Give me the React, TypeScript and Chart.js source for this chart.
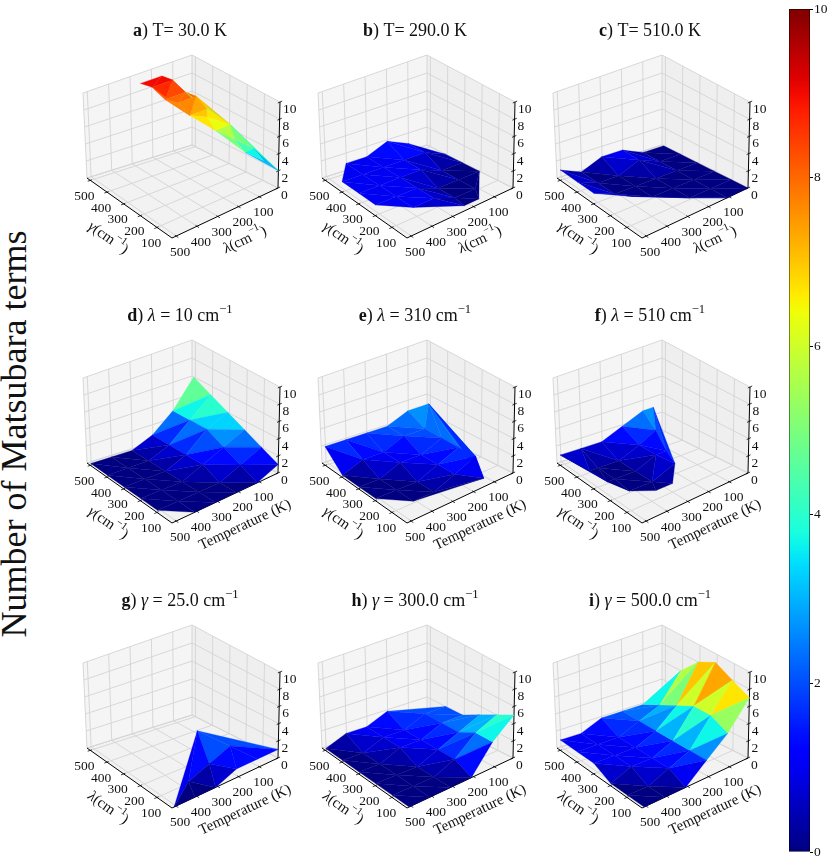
import React, { useEffect, useRef } from "react";
import { Chart, registerables } from "chart.js";

Chart.register(...registerables);

const FONT = '"Liberation Serif", "Times New Roman", serif';

// ticks shared by all 3D panels and the colour bar
const axisTicks = [100, 200, 300, 400, 500];
const zTicks = [0, 2, 4, 6, 8, 10];
const barTicks = [0, 2, 4, 6, 8, 10];
const axisMin = 10;
const axisMax = 520;
const zMax = 10;

// a) T = 30 K : gamma, lambda, terms
const gammaA = [510, 510, 460, 460, 410, 410, 360, 360, 310, 310, 260, 210, 210, 160, 110, 110, 60, 10];
const lambdaA = [160, 260, 150, 245, 130, 225, 120, 205, 110, 190, 150, 80, 150, 100, 50, 90, 40, 10];
const termsA = [9, 9, 9, 9, 8, 8, 8, 8, 7, 7, 7, 6, 6, 5, 4, 4, 3, 2];

// b) T = 290 K
const gammaB = [510, 510, 510, 510, 410, 410, 410, 410, 410, 410, 310, 310, 310, 310, 310, 310, 210, 210, 210, 210, 210, 210, 110, 110, 110, 110, 40, 40];
const lambdaB = [110, 210, 310, 410, 10, 110, 210, 310, 410, 510, 10, 110, 210, 310, 410, 510, 10, 110, 210, 310, 410, 510, 110, 210, 310, 410, 150, 220];
const termsB = [1, 2, 1, 1, 0, 1, 1, 1, 1, 1, 0, 0, 1, 1, 1, 1, 0, 0, 0, 1, 1, 1, 0, 0, 1, 1, 0, 0];

// c) T = 510 K
const gammaC = [510, 510, 510, 510, 510, 510, 410, 410, 410, 410, 410, 410, 310, 310, 310, 310, 310, 310, 210, 210, 210, 210, 210, 110, 110, 110, 10, 10];
const lambdaC = [10, 110, 210, 310, 410, 510, 10, 110, 210, 310, 410, 510, 10, 110, 210, 310, 410, 510, 10, 110, 210, 310, 410, 10, 110, 210, 10, 110];
const termsC = [0, 0, 1, 1, 0, 1, 0, 0, 1, 0, 0, 1, 0, 0, 0, 0, 0, 1, 0, 0, 0, 0, 1, 0, 0, 0, 0, 0];

// d) lambda = 10 : gamma, temperature, terms
const gammaD = [510, 510, 510, 510, 510, 510, 410, 410, 410, 410, 410, 410, 310, 310, 310, 310, 310, 310, 210, 210, 210, 210, 210, 210, 110, 110, 110, 110, 110, 110, 10, 10, 10, 10, 10];
const tempD = [10, 110, 210, 310, 410, 510, 10, 110, 210, 310, 410, 510, 10, 110, 210, 310, 410, 510, 10, 110, 210, 310, 410, 510, 10, 110, 210, 310, 410, 510, 10, 110, 210, 310, 410];
const termsD = [6, 3, 1, 0, 0, 0, 5, 3, 1, 0, 0, 0, 4, 3, 1, 0, 0, 0, 3, 2, 1, 0, 0, 0, 2, 1, 0, 0, 0, 0, 1, 0, 0, 0, 0];

// e) lambda = 310
const gammaE = [510, 510, 510, 510, 510, 510, 410, 410, 410, 410, 410, 310, 310, 310, 310, 310, 210, 210, 210, 210, 210, 110, 110, 110, 110, 60];
const tempE = [10, 110, 210, 310, 410, 510, 110, 210, 310, 410, 510, 110, 210, 310, 410, 510, 110, 210, 310, 410, 510, 110, 210, 310, 410, 110];
const termsE = [3, 3, 2, 2, 2, 2, 2, 2, 1, 1, 0, 2, 1, 1, 0, 0, 2, 1, 0, 0, 0, 2, 1, 0, 0, 0];

// f) lambda = 510
const gammaF = [510, 510, 510, 510, 510, 510, 410, 410, 410, 410, 410, 310, 310, 310, 310, 310, 210, 210, 210, 150, 150];
const tempF = [60, 110, 210, 310, 410, 510, 130, 210, 310, 410, 450, 160, 210, 310, 410, 445, 200, 310, 420, 260, 340];
const termsF = [3, 3, 2, 1, 1, 1, 2, 1, 0, 0, 0, 1, 1, 0, 0, 0, 1, 0, 0, 0, 0];

// g) gamma = 25 : lambda, temperature, terms
const lambdaG = [10, 10, 10, 10, 10, 10, 110, 110, 110, 230];
const tempG = [10, 110, 210, 310, 410, 510, 160, 260, 360, 220];
const termsG = [1, 1, 1, 0, 0, 0, 2, 1, 0, 3];

// h) gamma = 300
const lambdaH = [510, 510, 510, 510, 410, 410, 410, 410, 410, 410, 310, 310, 310, 310, 310, 310, 210, 210, 210, 210, 210, 210, 110, 110, 110, 110, 110, 110, 10, 10, 10, 10, 10, 10];
const tempH = [210, 310, 410, 510, 10, 110, 210, 310, 410, 510, 10, 110, 210, 310, 410, 510, 10, 110, 210, 310, 410, 510, 10, 110, 210, 310, 410, 510, 10, 110, 210, 310, 410, 510];
const termsH = [2, 1, 1, 0, 2, 2, 1, 1, 0, 0, 2, 2, 1, 1, 0, 0, 3, 2, 1, 0, 0, 0, 4, 3, 1, 0, 0, 0, 5, 3, 0, 0, 0, 0];

// i) gamma = 500
const lambdaI = [510, 510, 510, 510, 510, 510, 410, 410, 410, 410, 410, 410, 310, 310, 310, 310, 310, 310, 210, 210, 210, 210, 210, 210, 110, 110, 110, 110, 110, 110, 10, 10, 10, 10, 10, 10];
const tempI = [10, 110, 210, 310, 410, 510, 10, 110, 210, 310, 410, 510, 10, 110, 210, 310, 410, 510, 10, 110, 210, 310, 410, 510, 10, 110, 210, 310, 410, 510, 10, 110, 210, 310, 410, 510];
const termsI = [3, 2, 2, 2, 1, 1, 6, 3, 2, 1, 1, 1, 8, 4, 2, 1, 1, 1, 9, 5, 2, 1, 1, 0, 8, 5, 2, 1, 0, 0, 7, 4, 2, 0, 0, 0];

type Seg = { t: string; b?: boolean; i?: boolean; sup?: boolean };

const gammaLabel: Seg[] = [{ t: "γ", i: true }, { t: "(cm" }, { t: "−1", sup: true }, { t: ")" }];
const lambdaLabel: Seg[] = [{ t: "λ", i: true }, { t: "(cm" }, { t: "−1", sup: true }, { t: ")" }];
const tempLabel: Seg[] = [{ t: "Temperature (K)" }];

const mathTitle = (letter: string, sym: string, rest: string): Seg[] => [
  { t: letter, b: true },
  { t: ") " },
  { t: sym, i: true },
  { t: rest + " cm" },
  { t: "−1", sup: true },
];

interface PanelSpec {
  title: Seg[];
  left: Seg[];
  right: Seg[];
  xs: number[];
  ys: number[];
  zs: number[];
}

const panels: PanelSpec[] = [
  { title: [{ t: "a", b: true }, { t: ") T= 30.0 K" }], left: gammaLabel, right: lambdaLabel, xs: gammaA, ys: lambdaA, zs: termsA },
  { title: [{ t: "b", b: true }, { t: ") T= 290.0 K" }], left: gammaLabel, right: lambdaLabel, xs: gammaB, ys: lambdaB, zs: termsB },
  { title: [{ t: "c", b: true }, { t: ") T= 510.0 K" }], left: gammaLabel, right: lambdaLabel, xs: gammaC, ys: lambdaC, zs: termsC },
  { title: mathTitle("d", "λ", " = 10"), left: gammaLabel, right: tempLabel, xs: gammaD, ys: tempD, zs: termsD },
  { title: mathTitle("e", "λ", " = 310"), left: gammaLabel, right: tempLabel, xs: gammaE, ys: tempE, zs: termsE },
  { title: mathTitle("f", "λ", " = 510"), left: gammaLabel, right: tempLabel, xs: gammaF, ys: tempF, zs: termsF },
  { title: mathTitle("g", "γ", " = 25.0"), left: lambdaLabel, right: tempLabel, xs: lambdaG, ys: tempG, zs: termsG },
  { title: mathTitle("h", "γ", " = 300.0"), left: lambdaLabel, right: tempLabel, xs: lambdaH, ys: tempH, zs: termsH },
  { title: mathTitle("i", "γ", " = 500.0"), left: lambdaLabel, right: tempLabel, xs: lambdaI, ys: tempI, zs: termsI },
];

// panel geometry (local pixels): floor and top corners of the 3D box
const PANEL_W = 235;
const PANEL_H = 285;
const FLOOR = { R: [213, 188], B: [127, 145], L: [22, 178], F: [107, 238] };
const TOP = { R: [215, 102], B: [127, 55], L: [18, 93], F: [106, 150] };

// matplotlib jet
const JET_R = [[0, 0], [0.35, 0], [0.66, 1], [0.89, 1], [1, 0.5]];
const JET_G = [[0, 0], [0.125, 0], [0.375, 1], [0.64, 1], [0.91, 0], [1, 0]];
const JET_B = [[0, 0.5], [0.11, 1], [0.34, 1], [0.65, 0], [1, 0]];

function piece(pts: number[][], t: number) {
  for (let k = 1; k < pts.length; k++) {
    if (t <= pts[k][0]) {
      const [x0, y0] = pts[k - 1];
      const [x1, y1] = pts[k];
      return y0 + ((y1 - y0) * (t - x0)) / (x1 - x0);
    }
  }
  return pts[pts.length - 1][1];
}

function jet(t: number) {
  const c = Math.max(0, Math.min(1, t));
  const r = Math.round(255 * piece(JET_R, c));
  const g = Math.round(255 * piece(JET_G, c));
  const b = Math.round(255 * piece(JET_B, c));
  return `rgb(${r},${g},${b})`;
}

const norm = (v: number) => (v - axisMin) / (axisMax - axisMin);

function bil(q: any, u: number, v: number) {
  const wR = (1 - u) * (1 - v);
  const wB = u * (1 - v);
  const wL = u * v;
  const wF = (1 - u) * v;
  return [
    q.R[0] * wR + q.B[0] * wB + q.L[0] * wL + q.F[0] * wF,
    q.R[1] * wR + q.B[1] * wB + q.L[1] * wL + q.F[1] * wF,
  ];
}

function project(u: number, v: number, w: number) {
  const f = bil(FLOOR, u, v);
  const t = bil(TOP, u, v);
  return [f[0] + (t[0] - f[0]) * w, f[1] + (t[1] - f[1]) * w];
}

// Bowyer-Watson Delaunay, like plot_trisurf
function triangulate(pts: number[][]) {
  const n = pts.length;
  const P = pts.concat([[-100, -100], [300, -100], [-100, 300]]);
  const inCircle = (t: number[], px: number, py: number) => {
    const [ax, ay] = P[t[0]];
    const [bx, by] = P[t[1]];
    const [cx, cy] = P[t[2]];
    const d = 2 * (ax * (by - cy) + bx * (cy - ay) + cx * (ay - by));
    if (Math.abs(d) < 1e-12) return false;
    const a2 = ax * ax + ay * ay;
    const b2 = bx * bx + by * by;
    const c2 = cx * cx + cy * cy;
    const ux = (a2 * (by - cy) + b2 * (cy - ay) + c2 * (ay - by)) / d;
    const uy = (a2 * (cx - bx) + b2 * (ax - cx) + c2 * (bx - ax)) / d;
    const r2 = (ax - ux) ** 2 + (ay - uy) ** 2;
    return (px - ux) ** 2 + (py - uy) ** 2 < r2 - 1e-9;
  };
  let tris: number[][] = [[n, n + 1, n + 2]];
  for (let i = 0; i < n; i++) {
    const [px, py] = P[i];
    const bad: number[][] = [];
    const keep: number[][] = [];
    tris.forEach((t) => (inCircle(t, px, py) ? bad : keep).push(t));
    const edges: number[][] = [];
    bad.forEach((t) => {
      [[t[0], t[1]], [t[1], t[2]], [t[2], t[0]]].forEach(([a, b]) => {
        const shared = bad.some((o) => o !== t && o.includes(a) && o.includes(b));
        if (!shared) edges.push([a, b]);
      });
    });
    tris = keep.concat(edges.map(([a, b]) => [a, b, i]));
  }
  return tris.filter((t) => t.every((k) => k < n));
}

function drawRich(ctx: CanvasRenderingContext2D, segs: Seg[], x: number, y: number, size: number, angle: number, baseline: CanvasTextBaseline) {
  const fontOf = (s: Seg) => `${s.i ? "italic " : ""}${s.b ? "bold " : ""}${s.sup ? size * 0.7 : size}px ${FONT}`;
  let total = 0;
  const widths = segs.map((s) => {
    ctx.font = fontOf(s);
    const w = ctx.measureText(s.t).width;
    total += w;
    return w;
  });
  ctx.save();
  ctx.translate(x, y);
  ctx.rotate(angle);
  ctx.textAlign = "left";
  ctx.textBaseline = baseline;
  let cx = -total / 2;
  segs.forEach((s, k) => {
    ctx.font = fontOf(s);
    ctx.fillText(s.t, cx, s.sup ? -size * 0.42 : 0);
    cx += widths[k];
  });
  ctx.restore();
}

function makeBoxPlugin(spec: PanelSpec, uvw: number[][], tris: number[][]) {
  const pixel = (chart: any, u: number, v: number, w: number) => {
    const [x, y] = project(u, v, w);
    return [chart.scales.x.getPixelForValue(x), chart.scales.y.getPixelForValue(y)];
  };
  return {
    id: "box3d",
    beforeDatasetsDraw(chart: any) {
      const ctx: CanvasRenderingContext2D = chart.ctx;
      const P = (u: number, v: number, w: number) => pixel(chart, u, v, w);
      const poly = (pts: number[][], fill: string) => {
        ctx.beginPath();
        pts.forEach(([x, y], k) => (k ? ctx.lineTo(x, y) : ctx.moveTo(x, y)));
        ctx.closePath();
        ctx.fillStyle = fill;
        ctx.fill();
      };
      const line = (a: number[], b: number[], color: string, lw: number) => {
        ctx.beginPath();
        ctx.moveTo(a[0], a[1]);
        ctx.lineTo(b[0], b[1]);
        ctx.strokeStyle = color;
        ctx.lineWidth = lw;
        ctx.stroke();
      };
      ctx.save();
      poly([P(1, 0, 0), P(1, 1, 0), P(1, 1, 1), P(1, 0, 1)], "rgb(245,245,245)");
      poly([P(0, 0, 0), P(1, 0, 0), P(1, 0, 1), P(0, 0, 1)], "rgb(239,239,239)");
      poly([P(0, 0, 0), P(1, 0, 0), P(1, 1, 0), P(0, 1, 0)], "rgb(242,242,242)");
      const grid = "#d4d4d4";
      axisTicks.forEach((t) => {
        const a = norm(t);
        line(P(a, 0, 0), P(a, 1, 0), grid, 0.9);
        line(P(0, a, 0), P(1, a, 0), grid, 0.9);
        line(P(1, a, 0), P(1, a, 1), grid, 0.9);
        line(P(a, 0, 0), P(a, 0, 1), grid, 0.9);
      });
      zTicks.forEach((z) => {
        const c = z / zMax;
        line(P(1, 0, c), P(1, 1, c), grid, 0.9);
        line(P(0, 0, c), P(1, 0, c), grid, 0.9);
      });
      line(P(1, 1, 0), P(1, 1, 1), grid, 0.9);
      line(P(1, 0, 0), P(1, 0, 1), grid, 0.9);
      line(P(1, 0, 0), P(1, 1, 0), grid, 0.9);
      line(P(0, 0, 0), P(1, 0, 0), grid, 0.9);
      // axis lines
      line(P(1, 1, 0), P(0, 1, 0), "#000", 1);
      line(P(0, 1, 0), P(0, 0, 0), "#000", 1);
      line(P(0, 0, 0), P(0, 0, 1), "#000", 1);
      axisTicks.forEach((t) => {
        const a = norm(t);
        line(P(a, 0.985, 0), P(a, 1.025, 0), "#000", 0.8);
        line(P(0.015, a, 0), P(-0.025, a, 0), "#000", 0.8);
      });
      zTicks.forEach((z) => {
        const c = z / zMax;
        line(P(0, 0.02, c), P(0, -0.02, c), "#000", 0.8);
      });
      ctx.restore();
    },
    afterDatasetsDraw(chart: any) {
      const ctx: CanvasRenderingContext2D = chart.ctx;
      const P = (u: number, v: number, w: number) => pixel(chart, u, v, w);
      const data = chart.data.datasets[0].data;
      const sx = chart.scales.x;
      const sy = chart.scales.y;
      ctx.save();
      // surface, far triangles first
      const faces = tris
        .map((t) => {
          const u = (uvw[t[0]][0] + uvw[t[1]][0] + uvw[t[2]][0]) / 3;
          const v = (uvw[t[0]][1] + uvw[t[1]][1] + uvw[t[2]][1]) / 3;
          const w = (uvw[t[0]][2] + uvw[t[1]][2] + uvw[t[2]][2]) / 3;
          return { t, w, depth: 0.612 * (u - v) - 0.375 * w };
        })
        .sort((a, b) => b.depth - a.depth);
      faces.forEach(({ t, w }) => {
        ctx.beginPath();
        t.forEach((k, j) => {
          const x = sx.getPixelForValue(data[k].x);
          const y = sy.getPixelForValue(data[k].y);
          if (j) ctx.lineTo(x, y);
          else ctx.moveTo(x, y);
        });
        ctx.closePath();
        const col = jet(w);
        ctx.fillStyle = col;
        ctx.strokeStyle = col;
        ctx.lineWidth = 0.3;
        ctx.fill();
        ctx.stroke();
      });
      // tick labels
      ctx.fillStyle = "#111";
      ctx.font = `13.5px ${FONT}`;
      ctx.textBaseline = "middle";
      ctx.textAlign = "center";
      axisTicks.forEach((t) => {
        const a = norm(t);
        const [lx, ly] = P(a, 1, 0);
        ctx.fillText(String(t), lx - 6, ly + 16);
        const [rx, ry] = P(0, a, 0);
        ctx.fillText(String(t), rx + 4, ry + 16);
      });
      ctx.textAlign = "left";
      zTicks.forEach((z) => {
        const [x, y] = P(0, 0, z / zMax);
        ctx.fillText(String(z), x + 3, y + 7.5);
      });
      // axis labels
      const L0 = P(1, 1, 0);
      const F0 = P(0, 1, 0);
      const R0 = P(0, 0, 0);
      const [mlx, mly] = P(0.5, 1, 0);
      drawRich(ctx, spec.left, mlx - 21.5, mly + 30, 15, Math.atan2(F0[1] - L0[1], F0[0] - L0[0]), "middle");
      const [mrx, mry] = P(0, 0.5, 0);
      drawRich(ctx, spec.right, mrx + 20, mry + 27, 15, Math.atan2(R0[1] - F0[1], R0[0] - F0[0]), "middle");
      // title
      drawRich(ctx, spec.title, sx.getPixelForValue(115), sy.getPixelForValue(35.5), 18, 0, "alphabetic");
      ctx.restore();
    },
  };
}

function Panel({ spec, left, top }: { spec: PanelSpec; left: number; top: number }) {
  const canvasRef = useRef<HTMLCanvasElement | null>(null);

  useEffect(() => {
    if (!canvasRef.current) return;
    const uvw = spec.xs.map((x, k) => [norm(x), norm(spec.ys[k]), spec.zs[k] / zMax]);
    const tris = triangulate(uvw.map((p) => [p[0], p[1]]));
    const pts = uvw.map((p) => {
      const [x, y] = project(p[0], p[1], p[2]);
      return { x, y };
    });
    const chart = new Chart(canvasRef.current, {
      type: "scatter",
      data: { datasets: [{ data: pts, pointRadius: 0, pointHoverRadius: 0 }] },
      options: {
        responsive: false,
        animation: false,
        events: [],
        layout: { padding: 0 },
        plugins: { legend: { display: false }, tooltip: { enabled: false } },
        scales: {
          x: { type: "linear", display: false, min: 0, max: PANEL_W },
          y: { type: "linear", display: false, min: 0, max: PANEL_H, reverse: true },
        },
      },
      plugins: [makeBoxPlugin(spec, uvw, tris)],
    } as any);
    return () => chart.destroy();
  }, [spec]);

  return (
    <div style={{ position: "absolute", left, top, width: PANEL_W, height: PANEL_H }}>
      <canvas ref={canvasRef} width={PANEL_W} height={PANEL_H} />
    </div>
  );
}

function ColorBar() {
  const canvasRef = useRef<HTMLCanvasElement | null>(null);

  useEffect(() => {
    if (!canvasRef.current) return;
    const chart = new Chart(canvasRef.current, {
      type: "bar",
      data: {
        labels: [""],
        datasets: [
          {
            data: [[barTicks[0], barTicks[barTicks.length - 1]]],
            backgroundColor: (c: any) => {
              const ch = c.chart;
              if (!ch.chartArea) return "#00f";
              const y0 = ch.scales.y.getPixelForValue(0);
              const y1 = ch.scales.y.getPixelForValue(10);
              const g = ch.ctx.createLinearGradient(0, y0, 0, y1);
              for (let k = 0; k <= 50; k++) g.addColorStop(k / 50, jet(k / 50));
              return g;
            },
            borderColor: "#000",
            borderWidth: 0.8,
            borderSkipped: false,
            barPercentage: 1,
            categoryPercentage: 1,
          },
        ],
      },
      options: {
        responsive: false,
        animation: false,
        events: [],
        layout: { padding: { left: 9, top: 8, bottom: 11, right: 0 } },
        plugins: { legend: { display: false }, tooltip: { enabled: false } },
        scales: {
          x: { display: false },
          y: {
            position: "right",
            min: 0,
            max: 10,
            afterBuildTicks: (s: any) => {
              s.ticks = barTicks.map((v) => ({ value: v }));
            },
            afterFit: (s: any) => {
              s.width = 20;
            },
            ticks: { color: "#111", font: { family: FONT, size: 13.5 }, padding: 1 },
            grid: { drawOnChartArea: false, drawTicks: true, tickLength: 3, color: "#000" },
            border: { display: false },
          },
        },
      },
    } as any);
    return () => chart.destroy();
  }, []);

  return (
    <div style={{ position: "absolute", left: 780, top: 0, width: 50, height: 863 }}>
      <canvas ref={canvasRef} width={50} height={863} />
    </div>
  );
}

export default function App() {
  return (
    <div style={{ position: "fixed", left: 0, top: 0, width: 830, height: 863, background: "#fff", overflow: "hidden" }}>
      <div
        style={{
          position: "absolute",
          left: 14,
          top: 434,
          transform: "translate(-50%, -50%) rotate(-90deg)",
          fontFamily: FONT,
          fontSize: 36,
          lineHeight: 1,
          whiteSpace: "nowrap",
          color: "#111",
        }}
      >
        Number of Matsubara terms
      </div>
      {panels.map((p, k) => (
        <Panel key={k} spec={p} left={65 + (k % 3) * 235} top={Math.floor(k / 3) * 285} />
      ))}
      <ColorBar />
    </div>
  );
}
